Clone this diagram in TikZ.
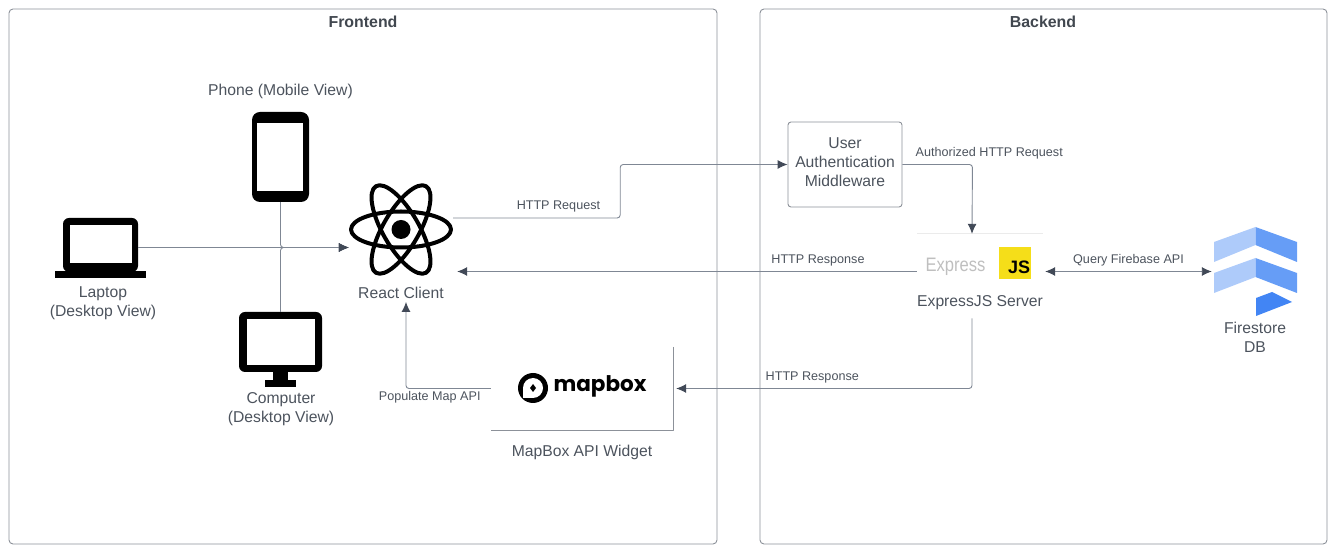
\documentclass[tikz,border=0pt]{standalone}
\usepackage{fontspec}
\setmainfont{Liberation Sans}
\newfontfamily\logofont{Poppins}
\usetikzlibrary{arrows.meta,calc}

\definecolor{textcol}{HTML}{4C535D}
\definecolor{linecol}{HTML}{7F8794}
\definecolor{tipcol}{HTML}{414957}
\definecolor{framecol}{HTML}{8C9199}

\begin{document}
\begin{tikzpicture}[>={Latex[length=10bp,width=9bp,color=tipcol]},line join=bevel,
	font=\fontsize{15.7bp}{19bp}\selectfont,text=textcol,
	frame/.style={draw=framecol,line width=0.9bp,rounded corners=4bp,minimum width=#1,minimum height=535bp,inner sep=0pt},
	title/.style={font=\fontsize{15.9bp}{19bp}\selectfont\bfseries,text=textcol!85!black},
	icon/.style={fill=black,rounded corners=#1,inner sep=0pt},
	screen/.style={fill=white,inner sep=0pt},
	label/.style={align=center,inner sep=0pt},
	conn/.style={draw=linecol,line width=0.9bp,rounded corners=3bp},
	edgelabel/.style={font=\fontsize{12.6bp}{14bp}\selectfont,inner sep=0pt},
	]
	%%
	\useasboundingbox (0bp,0bp) rectangle (1336bp,553bp);
	\node (front) at (363bp,276.5bp) [frame=708bp] {};
	  \node (back) at (1043.5bp,276.5bp) [frame=567bp] {};
	  \node (fronttitle) at (363bp,531bp) [title] {Frontend};
	  \node (backtitle) at (1043bp,531bp) [title] {Backend};
	%
	  \node (phone) at (280.5bp,396bp) [icon=8bp,minimum width=57bp,minimum height=90bp] {};
	  \node (phonescreen) at (280bp,396bp) [screen,minimum width=46bp,minimum height=68bp] {};
	  \node (phonelabel) at (280.5bp,462bp) [label] {Phone (Mobile View)};
	%
	  \node (laptop) at (100.5bp,308bp) [icon=6bp,minimum width=75bp,minimum height=54bp] {};
	  \node (laptopscreen) at (101bp,309bp) [screen,minimum width=62bp,minimum height=38bp] {};
	  \node (laptopbase) at (100.5bp,278.5bp) [icon=0bp,minimum width=91bp,minimum height=7bp] {};
	  \node (laptoplabel) at (103bp,250bp) [label] {Laptop\\(Desktop View)};
	%
	  \node (computer) at (280.5bp,211bp) [icon=6bp,minimum width=83bp,minimum height=60bp] {};
	  \node (computerscreen) at (281bp,211bp) [screen,minimum width=68bp,minimum height=46bp] {};
	  \node (computerstem) at (280.5bp,177bp) [icon=0bp,minimum width=15bp,minimum height=8bp] {};
	  \node (computerfoot) at (280.5bp,169.5bp) [icon=0bp,minimum width=31bp,minimum height=7bp] {};
	  \node (computerlabel) at (281bp,144bp) [label] {Computer\\(Desktop View)};
	%
	  \node (react) at (401bp,323.5bp) [inner sep=0pt,minimum width=104bp,minimum height=93bp] {};
	  \foreach \a in {0,60,120}
	    \draw [black,line width=4bp,rotate around={\a:(react)}] (react) ellipse (50bp and 18bp);
	  \fill [black] (react) circle (9.5bp);
	  \node (reactlabel) at (401bp,260bp) [label] {React Client};
	  \coordinate (rc) at ([yshift=-18bp]react.west);
	%
	  \node (auth) at (845bp,388.5bp) [draw=framecol,line width=0.9bp,rounded corners=3bp,inner sep=0pt,minimum width=114bp,minimum height=85bp] {};
	  \node (authlabel) at (845bp,390.5bp) [label] {User\\Authentication\\Middleware};
	%
	  \node (express) at (980bp,281.5bp) [inner sep=0pt,minimum width=126bp,minimum height=75bp] {};
	  \draw [black!8,line width=0.8bp] (express.north west) -- (express.north east);
	  \node (expresslogo) at (955.5bp,286bp) [inner sep=0pt,transform shape,xscale=.85,font=\fontsize{19.5bp}{20bp}\selectfont,text=black!25] {Express};
	  \node (jslogo) at (1015bp,290bp) [fill={rgb,255:red,245;green,222;blue,25},inner sep=0pt,minimum size=32bp] {};
	  \node (jstext) at (1019bp,285.5bp) [inner sep=0pt,font=\fontsize{18bp}{18bp}\selectfont\bfseries,text=black] {JS};
	  \node (expresslabel) at (980bp,250bp) [label] {ExpressJS Server};
	%
	  \node (firestore) at (1255.5bp,281.5bp) [inner sep=0pt,minimum width=83bp,minimum height=89bp] {};
	  \definecolor{firelight}{HTML}{AECBFA}
	  \definecolor{firemid}{HTML}{669DF6}
	  \definecolor{firedark}{HTML}{4285F4}
	  \fill [firelight] (1214bp,311bp) -- (1255.5bp,326bp) -- (1255.5bp,308bp) -- (1214bp,291bp) -- cycle;
	  \fill [firemid] (1297bp,311bp) -- (1255.5bp,326bp) -- (1255.5bp,308bp) -- (1297bp,291bp) -- cycle;
	  \fill [firelight] (1214bp,280bp) -- (1255.5bp,295bp) -- (1255.5bp,276bp) -- (1214bp,260bp) -- cycle;
	  \fill [firemid] (1297bp,280bp) -- (1255.5bp,295bp) -- (1255.5bp,276bp) -- (1297bp,260bp) -- cycle;
	  \fill [firedark] (1256bp,255bp) -- (1272bp,261bp) -- (1292bp,251bp) -- (1256bp,237bp) -- cycle;
	  \node (firestorelabel) at (1255bp,216bp) [label] {Firestore\\DB};
	%
	  \node (mapbox) at (582bp,164.5bp) [inner sep=0pt,minimum width=182bp,minimum height=83bp] {};
	  \draw [framecol,line width=0.9bp] (mapbox.north east) -- (mapbox.south east) -- (mapbox.south west);
	  \node (mapboxlogo) at (533bp,165bp) [circle,fill=black,inner sep=0pt,minimum size=30bp] {};
	  \fill [white] (mapboxlogo) circle (10bp);
	  \fill [white] (523bp,155bp) rectangle (533bp,165bp);
	  \fill [black] (533bp,169bp) -- (536bp,165bp) -- (533bp,161bp) -- (530bp,165bp) -- cycle;
	  \node (mapboxtext) at (600bp,167bp) [inner sep=0pt,font=\fontsize{21.5bp}{24bp}\logofont\bfseries,text=black] {mapbox};
	  \node (mapboxlabel) at (582bp,101bp) [label] {MapBox API Widget};
	%
	  \draw [conn,->] (laptop.east |- rc) -- (rc);
	  \draw [conn,->] (phone.south) |- (rc);
	  \draw [conn,->] (computer.north) |- (rc);
	
	  \draw [conn,->] ([yshift=11.5bp]react.east) -- node[edgelabel,pos=.63,above=5bp]{HTTP Request} ++(167bp,0bp) |- (auth.west);
	  \draw [conn,->] (auth.east) -- node[edgelabel,pos=1.24,above=5bp]{Authorized HTTP Request} ++(70bp,0bp) -- ([xshift=-8bp]express.north);
	  \draw [conn,->] (express.west) -- node[edgelabel,pos=.215,above=5bp]{HTTP Response} ([xshift=4bp,yshift=-42bp]react.east);
	  \draw [conn,<->] ([xshift=2bp]express.east) -- node[edgelabel,above=5bp]{Query Firebase API} ([xshift=-2bp]firestore.west);
	  \draw [conn,->] ([xshift=-8bp,yshift=-8bp]expresslabel.south) |- node[edgelabel,pos=.77,above=5bp]{HTTP Response} ([xshift=3bp]mapbox.east);
	  \draw [conn,->] (mapbox.west) -| node[edgelabel,pos=.36,below=2bp]{Populate Map API} ([xshift=5bp,yshift=-3bp]reactlabel.south);
	%
\end{tikzpicture}
\end{document}
